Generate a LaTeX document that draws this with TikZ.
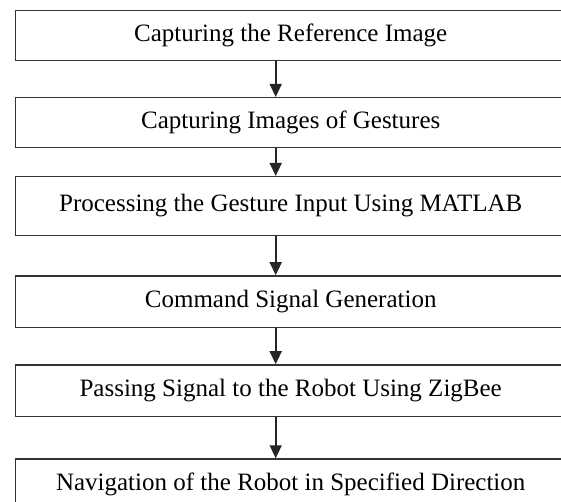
\documentclass[tikz,border=0pt]{standalone}
\usepackage{fontspec}
\setmainfont{Liberation Serif}
\usetikzlibrary{arrows.meta}
\begin{document}
\begin{tikzpicture}[x=1pt,y=-1pt,
  stepbox/.style={draw=black!80, line width=1.5pt, rectangle, minimum width=550pt, inner sep=0pt,
    font=\fontsize{25}{29}\selectfont, text=black},
  flow/.style={draw=black!85, line width=1.6pt, -{Triangle[length=13pt,width=12pt]}}]
\useasboundingbox (0,0) rectangle (561,501);
\clip (0,0) rectangle (561,501);
\fill[white] (0,0) rectangle (561,501);
\node[stepbox, minimum height=50pt]   (b1) at (290.7,35.7)  {Capturing the Reference Image};
\node[stepbox, minimum height=49.6pt] (b2) at (290.7,122.5) {Capturing Images of Gestures};
\node[stepbox, minimum height=58.6pt] (b3) at (290.7,206)   {Processing the Gesture Input Using MATLAB};
\node[stepbox, minimum height=51.7pt] (b4) at (290.7,301.8) {Command Signal Generation};
\node[stepbox, minimum height=51.7pt] (b5) at (290.7,390.8) {Passing Signal to the Robot Using ZigBee};
\node[stepbox, minimum height=51pt]   (b6) at (290.7,484.5) {Navigation of the Robot in Specified Direction};
\coordinate (ax) at (275.7,0);
\draw[flow] (b1.south -| ax) -- (b2.north -| ax);
\draw[flow] (b2.south -| ax) -- (b3.north -| ax);
\draw[flow] (b3.south -| ax) -- (b4.north -| ax);
\draw[flow] (b4.south -| ax) -- (b5.north -| ax);
\draw[flow] (b5.south -| ax) -- (b6.north -| ax);
\end{tikzpicture}
\end{document}
